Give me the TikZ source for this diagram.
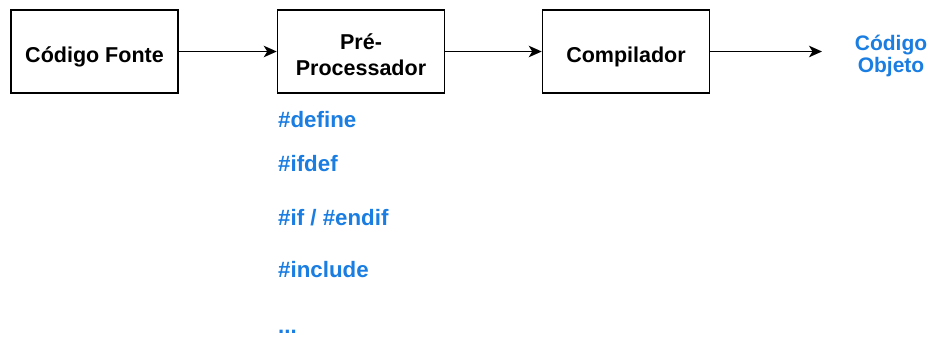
\documentclass[tikz,border=0pt]{standalone}
\usepackage{fontspec}
\setmainfont{Liberation Sans}
\usetikzlibrary{arrows.meta}
\definecolor{diretiva}{RGB}{26,125,225}

\begin{document}
\begin{tikzpicture}[x=1pt,y=-1pt,>={Stealth[length=13pt,width=11.5pt,inset=3.5pt]},
    etapa/.style={draw,line width=1.5pt,minimum width=167pt,minimum height=83pt},
    rotulo/.style={anchor=base,align=center,inner sep=0pt,
      font=\bfseries\fontsize{21.5}{26}\selectfont},
    diret/.style={anchor=base west,inner sep=0pt,text=diretiva,
      font=\bfseries\fontsize{22.3}{26}\selectfont}]
  \useasboundingbox (0,0) rectangle (931,338);
  \node[etapa] (fonte) at (94.5,51.5) {};
  \node[etapa] (pre)   at (361,51.5)  {};
  \node[etapa] (comp)  at (626,51.5)  {};
  % texto das caixas (base da ultima linha)
  \node[rotulo] (tfonte) at ([yshift=-10.5pt]fonte.center) {Código Fonte};
  \node[rotulo] (tpre)   at ([yshift=-23.5pt]pre.center)   {Pré-\\Processador};
  \node[rotulo] (tcomp)  at ([yshift=-10.5pt]comp.center)  {Compilador};
  \coordinate (fim) at (822,51.5);
  \node[rotulo,text=diretiva,font=\bfseries\fontsize{21}{22}\selectfont]
    (objeto) at (891,72) {Código\\Objeto};
  \draw[->,line width=1.6pt] (fonte) -- (pre);
  \draw[->,line width=1.6pt] (pre) -- (comp);
  \draw[->,line width=1.6pt] (comp) -- (fim);
  % diretivas do pre-processador
  \node[diret] (define)  at (278,127) {\#define};
  \node[diret] (ifdef)   at (278,171) {\#ifdef};
  \node[diret] (ifendif) at (278,225) {\#if / \#endif};
  \node[diret] (include) at (278,277) {\#include};
  \node[diret] (etc)     at (278,333) {...};
\end{tikzpicture}
\end{document}
